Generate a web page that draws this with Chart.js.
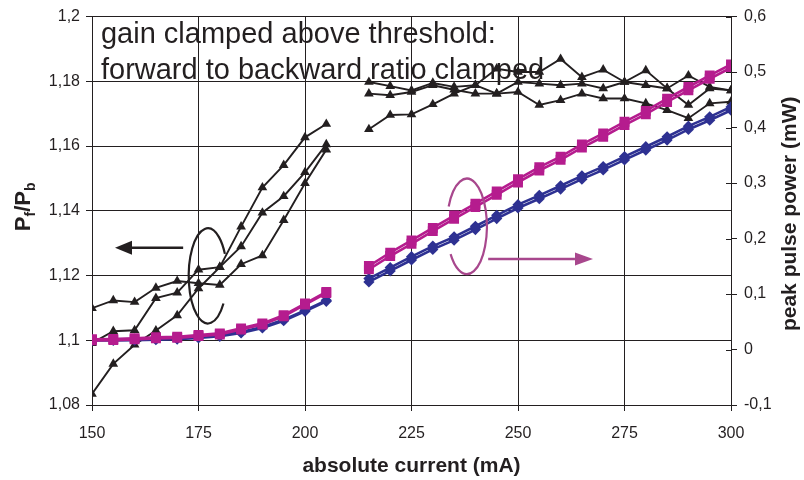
<!DOCTYPE html>
<html>
<head>
<meta charset="utf-8">
<script src="https://cdn.jsdelivr.net/npm/chart.js@4/dist/chart.umd.min.js"></script>
<style>
  html, body { margin: 0; padding: 0; background: #ffffff; }
  #wrap { width: 804px; height: 480px; }
</style>
</head>
<body>
<div id="wrap"><canvas id="c" width="804" height="480"></canvas></div>
<script>
// Drive current (mA): below-threshold sweep and above-threshold sweep
const currentLow  = [150, 155, 160, 165, 170, 175, 180, 185, 190, 195, 200, 205];
const currentHigh = [215, 220, 225, 230, 235, 240, 245, 250, 255, 260, 265, 270, 275, 280, 285, 290, 295, 300];

// Forward / backward power ratio Pf/Pb (left axis), three devices
const ratioLowA = [1.1099, 1.1123, 1.1118, 1.1162, 1.1183, 1.1176, 1.1171, 1.1235, 1.1262, 1.1371, 1.1485, 1.1589];
const ratioLowB = [1.0991, 1.1028, 1.1031, 1.1130, 1.1147, 1.1218, 1.1226, 1.1290, 1.1394, 1.1445, 1.1519, 1.1605];
const ratioLowC = [1.0834, 1.0927, 1.0986, 1.1030, 1.1077, 1.1160, 1.1226, 1.1351, 1.1472, 1.1541, 1.1627, 1.1668];

const ratioHighA = [1.1798, 1.1785, 1.1772, 1.1795, 1.1783, 1.1788, 1.1762, 1.1798, 1.1793, 1.1788, 1.1793, 1.1778, 1.1798, 1.1788, 1.1778, 1.1727, 1.1778, 1.1772];
const ratioHighB = [1.1762, 1.1757, 1.1767, 1.1788, 1.1774, 1.1762, 1.1762, 1.1767, 1.1727, 1.1742, 1.1762, 1.1747, 1.1747, 1.1732, 1.1711, 1.1686, 1.1732, 1.1737];
const ratioHighC = [1.1652, 1.1696, 1.1698, 1.1729, 1.1762, 1.1788, 1.1839, 1.1829, 1.1829, 1.1869, 1.1813, 1.1836, 1.1798, 1.1834, 1.1778, 1.1818, 1.1783, 1.1772];

// Peak pulse power in mW (right axis): forward (magenta) and backward (blue), two traces each
const powerFwdLowA  = [0.0184, 0.0189, 0.0202, 0.0220, 0.0230, 0.0261, 0.0291, 0.0381, 0.0471, 0.0619, 0.0829, 0.1037];
const powerFwdLowB  = [0.0164, 0.0169, 0.0182, 0.0200, 0.0210, 0.0241, 0.0271, 0.0361, 0.0451, 0.0599, 0.0809, 0.1017];
const powerBwdLowA  = [0.0180, 0.0182, 0.0187, 0.0196, 0.0206, 0.0226, 0.0256, 0.0316, 0.0406, 0.0536, 0.0706, 0.0886];
const powerBwdLowB  = [0.0162, 0.0164, 0.0169, 0.0178, 0.0188, 0.0208, 0.0238, 0.0298, 0.0388, 0.0518, 0.0688, 0.0868];

const powerFwdHighA = [0.1505, 0.1745, 0.1965, 0.2193, 0.2414, 0.2629, 0.2849, 0.3071, 0.3286, 0.3477, 0.3698, 0.3895, 0.4104, 0.4301, 0.4522, 0.4731, 0.4940, 0.5138];
const powerFwdHighB = [0.1445, 0.1685, 0.1905, 0.2133, 0.2354, 0.2569, 0.2789, 0.3011, 0.3226, 0.3417, 0.3638, 0.3835, 0.4044, 0.4241, 0.4462, 0.4671, 0.4880, 0.5078];
const powerBwdHighA = [0.1279, 0.1476, 0.1673, 0.1864, 0.2031, 0.2222, 0.2419, 0.2611, 0.2778, 0.2951, 0.3130, 0.3297, 0.3477, 0.3655, 0.3835, 0.4026, 0.4193, 0.4372];
const powerBwdHighB = [0.1219, 0.1416, 0.1613, 0.1804, 0.1971, 0.2162, 0.2359, 0.2551, 0.2718, 0.2891, 0.3070, 0.3237, 0.3417, 0.3595, 0.3775, 0.3966, 0.4133, 0.4312];

// Tick labels (decimal comma)
const xTickLabels     = ['150', '175', '200', '225', '250', '275', '300'];
const ratioTickLabels = ['1,08', '1,1', '1,12', '1,14', '1,16', '1,18', '1,2'];
const powerTickLabels = ['-0,1', '0', '0,1', '0,2', '0,3', '0,4', '0,5', '0,6'];

// Texts
const noteLines  = ['gain clamped above threshold:', 'forward to backward ratio clamped'];
const xTitle     = 'absolute current (mA)';
const powerTitle = 'peak pulse power (mW)';

const FONT    = '"Liberation Sans", Arial, Helvetica, sans-serif';
const INK     = '#231f20';
const MAGENTA = '#b51c8e';
const BLUE    = '#2e3192';
const NOTE    = '#a8478d';

function pts(xs, ys) { return xs.map((x, i) => ({ x: x, y: ys[i] })); }

function powerSet(xs, ys, color, style, r) {
  return {
    data: pts(xs, ys), yAxisID: 'yP',
    borderColor: color, backgroundColor: color, borderWidth: 2.6,
    pointStyle: style, pointRadius: r, pointBorderWidth: 0,
    pointBackgroundColor: color, tension: 0
  };
}
function ratioSet(xs, ys) {
  return {
    data: pts(xs, ys), yAxisID: 'yR',
    borderColor: INK, backgroundColor: INK, borderWidth: 1.9,
    pointStyle: 'triangle', pointRadius: 5.6, pointBorderWidth: 0,
    pointBackgroundColor: INK, tension: 0
  };
}

// Annotation helpers: circle-with-arrow markers that tie each curve group to its axis
function arrow(ctx, x0, y0, x1, y1, color, lw, headLen, headHalf) {
  const ang = Math.atan2(y1 - y0, x1 - x0);
  const bx = x1 - Math.cos(ang) * headLen, by = y1 - Math.sin(ang) * headLen;
  ctx.strokeStyle = color; ctx.fillStyle = color; ctx.lineWidth = lw;
  ctx.beginPath(); ctx.moveTo(x0, y0); ctx.lineTo(bx, by); ctx.stroke();
  ctx.beginPath();
  ctx.moveTo(x1, y1);
  ctx.lineTo(bx + Math.sin(ang) * headHalf, by - Math.cos(ang) * headHalf);
  ctx.lineTo(bx - Math.sin(ang) * headHalf, by + Math.cos(ang) * headHalf);
  ctx.closePath(); ctx.fill();
}

const decorations = {
  id: 'decorations',
  beforeDatasetsDraw(chart) {
    const { ctx, scales } = chart;
    const x = scales.x, yR = scales.yR;
    ctx.save();
    ctx.fillStyle = INK;
    ctx.font = '29px ' + FONT;
    ctx.textAlign = 'left'; ctx.textBaseline = 'alphabetic';
    ctx.fillText(noteLines[0], x.getPixelForValue(152.1), yR.getPixelForValue(1.1918));
    ctx.fillText(noteLines[1], x.getPixelForValue(152.1), yR.getPixelForValue(1.1808));
    ctx.restore();
  },
  afterDatasetsDraw(chart) {
    const { ctx, scales } = chart;
    const x = scales.x, yR = scales.yR, yP = scales.yP;
    ctx.save();
    // ratio group: open ellipse and arrow to the left axis
    const ex = x.getPixelForValue(177.2), ey = yR.getPixelForValue(1.1199);
    const erx = x.getPixelForValue(181.7) - ex, ery = ey - yR.getPixelForValue(1.1346);
    ctx.strokeStyle = INK; ctx.lineWidth = 2.2;
    ctx.beginPath(); ctx.ellipse(ex, ey, erx, ery, 0, 0.62, Math.PI * 2 - 0.48); ctx.stroke();
    const ay = yR.getPixelForValue(1.1286);
    arrow(ctx, x.getPixelForValue(171.4), ay, x.getPixelForValue(155.4), ay, INK, 2.6, 17, 7);

    // power group: open ellipse and arrow to the right axis
    const mx = x.getPixelForValue(238.0), my = yP.getPixelForValue(0.222);
    const mrx = x.getPixelForValue(242.7) - mx, mry = my - yP.getPixelForValue(0.308);
    ctx.strokeStyle = NOTE; ctx.lineWidth = 2.2;
    ctx.beginPath(); ctx.ellipse(mx, my, mrx, mry, 0, Math.PI + 0.43, Math.PI * 3 - 0.62); ctx.stroke();
    const py = yP.getPixelForValue(0.163);
    arrow(ctx, x.getPixelForValue(243.0), py, x.getPixelForValue(267.6), py, NOTE, 2.6, 18, 6.5);

    // inner tick marks on the right axis
    ctx.strokeStyle = INK; ctx.lineWidth = 1;
    yP.ticks.forEach(t => {
      const ty = Math.round(yP.getPixelForValue(t.value)) + 0.5;
      ctx.beginPath(); ctx.moveTo(yP.left - 5, ty); ctx.lineTo(yP.left, ty); ctx.stroke();
    });
    ctx.restore();
  },
  afterDraw(chart) {
    const { ctx, chartArea } = chart;
    const cy = (chartArea.top + chartArea.bottom) / 2;
    ctx.save();
    ctx.fillStyle = INK;
    // left title Pf/Pb with subscripts, rotated
    ctx.translate(22, cy - 4);
    ctx.rotate(-Math.PI / 2);
    const big = 'bold 22px ' + FONT, small = 'bold 14px ' + FONT;
    const parts = [['P', big, 0], ['f', small, 5], ['/P', big, 0], ['b', small, 5]];
    let total = 0;
    parts.forEach(p => { ctx.font = p[1]; total += ctx.measureText(p[0]).width; });
    let px = -total / 2;
    ctx.textAlign = 'left'; ctx.textBaseline = 'alphabetic';
    parts.forEach(p => { ctx.font = p[1]; ctx.fillText(p[0], px, 8 + p[2]); px += ctx.measureText(p[0]).width; });
    ctx.restore();

    // right title, reading bottom to top
    ctx.save();
    ctx.fillStyle = INK;
    ctx.translate(790, cy + 3);
    ctx.rotate(-Math.PI / 2);
    ctx.font = 'bold 21px ' + FONT;
    ctx.textAlign = 'center'; ctx.textBaseline = 'middle';
    ctx.fillText(powerTitle, 0, 0);
    ctx.restore();
  }
};

new Chart(document.getElementById('c'), {
  type: 'line',
  data: {
    datasets: [
      powerSet(currentLow,  powerFwdLowA,  MAGENTA, 'rect', 7),
      powerSet(currentLow,  powerFwdLowB,  MAGENTA, 'rect', 7),
      powerSet(currentHigh, powerFwdHighA, MAGENTA, 'rect', 7),
      powerSet(currentHigh, powerFwdHighB, MAGENTA, 'rect', 7),
      powerSet(currentLow,  powerBwdLowA,  BLUE, 'rectRot', 5.6),
      powerSet(currentLow,  powerBwdLowB,  BLUE, 'rectRot', 5.6),
      powerSet(currentHigh, powerBwdHighA, BLUE, 'rectRot', 5.6),
      powerSet(currentHigh, powerBwdHighB, BLUE, 'rectRot', 5.6),
      ratioSet(currentLow,  ratioLowA),
      ratioSet(currentLow,  ratioLowB),
      ratioSet(currentLow,  ratioLowC),
      ratioSet(currentHigh, ratioHighA),
      ratioSet(currentHigh, ratioHighB),
      ratioSet(currentHigh, ratioHighC)
    ]
  },
  options: {
    responsive: false,
    animation: false,
    devicePixelRatio: 1,
    events: [],
    layout: { padding: { top: 14, left: 0, right: 0, bottom: 0 } },
    plugins: { legend: { display: false }, tooltip: { enabled: false } },
    scales: {
      x: {
        type: 'linear', position: 'bottom', min: 150, max: 300,
        ticks: {
          stepSize: 25, color: INK, padding: 13,
          font: { family: FONT, size: 16 },
          callback: (v, i) => xTickLabels[i]
        },
        grid: { color: INK, lineWidth: 1, tickLength: 6 },
        border: { display: true, color: INK, width: 1 },
        title: {
          display: true, text: xTitle, color: INK,
          font: { family: FONT, size: 21, weight: 'bold' },
          padding: { top: 0, bottom: 1 }
        },
        afterFit: s => { s.height = 75; }
      },
      yR: {
        type: 'linear', position: 'left', min: 1.08, max: 1.2,
        ticks: {
          stepSize: 0.02, color: INK, padding: 6,
          font: { family: FONT, size: 16 },
          callback: (v, i) => ratioTickLabels[i]
        },
        grid: { color: INK, lineWidth: 1, tickLength: 6 },
        border: { display: true, color: INK, width: 1 },
        afterFit: s => { s.width = 92; }
      },
      yP: {
        type: 'linear', position: 'right', min: -0.1, max: 0.6,
        ticks: {
          stepSize: 0.1, color: INK, padding: 7,
          font: { family: FONT, size: 16 },
          callback: (v, i) => powerTickLabels[i]
        },
        grid: { drawOnChartArea: false, color: INK, lineWidth: 1, tickLength: 6 },
        border: { display: true, color: INK, width: 1 },
        afterFit: s => { s.width = 73; }
      }
    }
  },
  plugins: [decorations]
});
</script>
</body>
</html>
